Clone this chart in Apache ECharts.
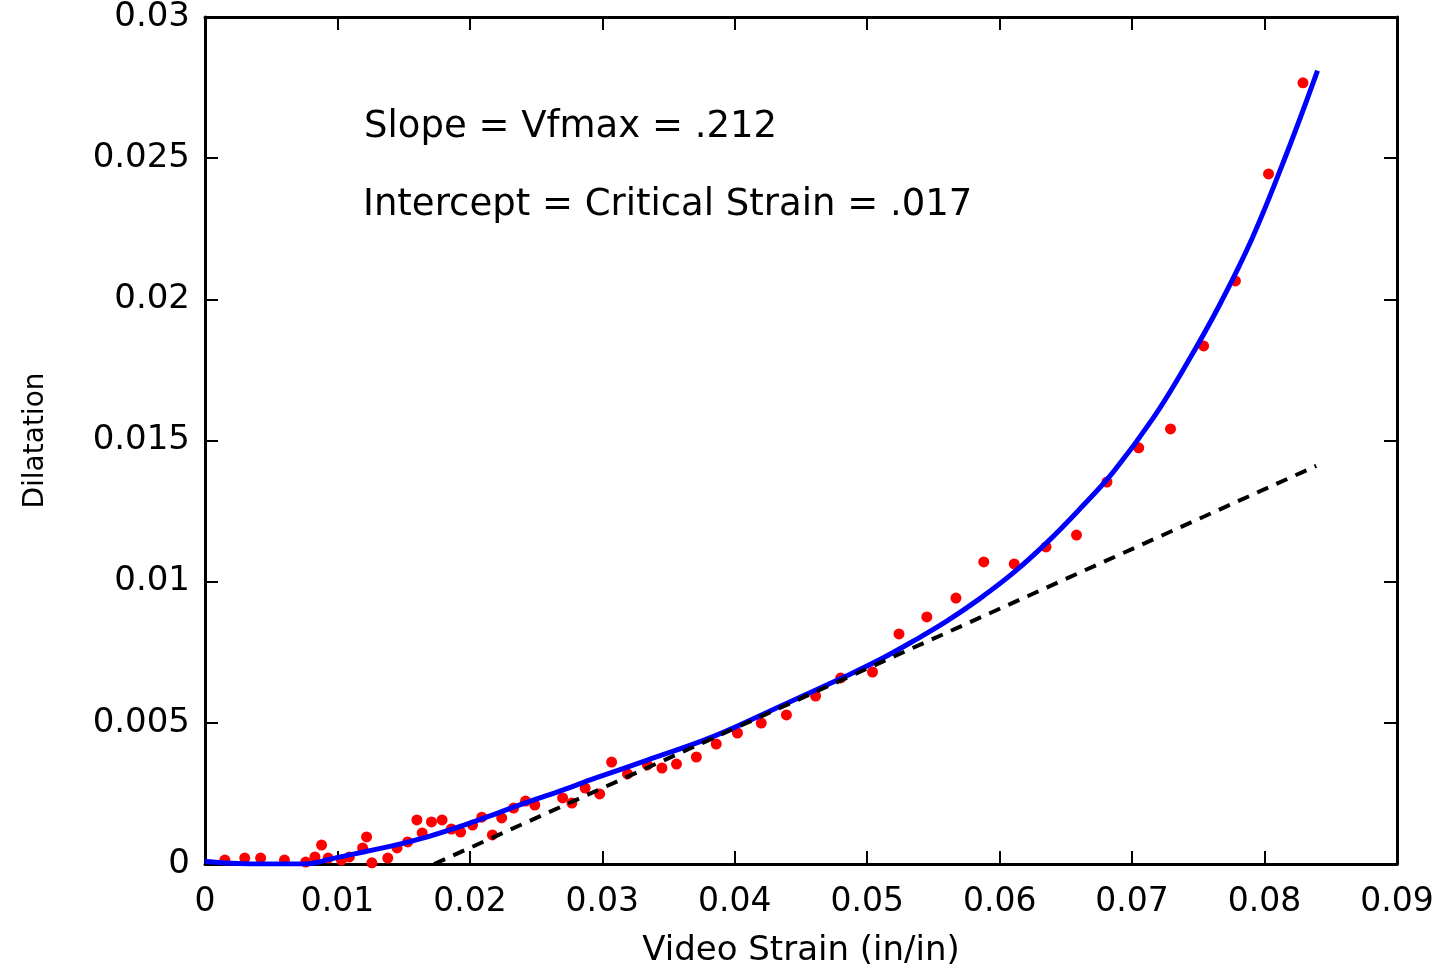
<!DOCTYPE html>
<html>
<head>
<meta charset="utf-8">
<script src="https://cdn.jsdelivr.net/npm/echarts@6/dist/echarts.min.js"></script>
<style>
  html, body { margin: 0; padding: 0; background: #fff; }
  #chart { width: 1451px; height: 969px; }
</style>
</head>
<body>
<div id="chart"></div>
<script>
// measured points: [video strain, dilatation]
const measured = [
  [0.0015, 0.00014], [0.0030, 0.00021], [0.0042, 0.00021], [0.0060, 0.00014],
  [0.0076, 0.00007], [0.0083, 0.00025], [0.0088, 0.00067], [0.0093, 0.00021],
  [0.0103, 0.00014], [0.0109, 0.00025], [0.0119, 0.00057], [0.0122, 0.00096],
  [0.0126, 0.00004], [0.0138, 0.00021], [0.0145, 0.00057], [0.0153, 0.00078],
  [0.0160, 0.00156], [0.0164, 0.00110], [0.0171, 0.00149], [0.0179, 0.00156],
  [0.0186, 0.00124], [0.0193, 0.00113], [0.0202, 0.00138], [0.0209, 0.00166],
  [0.0217, 0.00103], [0.0224, 0.00163], [0.0233, 0.00198], [0.0242, 0.00223],
  [0.0249, 0.00209], [0.0270, 0.00234], [0.0277, 0.00216], [0.0287, 0.00269],
  [0.0298, 0.00248], [0.0307, 0.00361], [0.0319, 0.00319], [0.0334, 0.00351],
  [0.0345, 0.00340], [0.0356, 0.00354], [0.0371, 0.00379], [0.0386, 0.00425],
  [0.0402, 0.00464], [0.0420, 0.00499], [0.0439, 0.00528], [0.0461, 0.00595],
  [0.0480, 0.00659], [0.0504, 0.00680], [0.0524, 0.00815], [0.0545, 0.00875],
  [0.0567, 0.00942], [0.0588, 0.01070], [0.0611, 0.01063], [0.0635, 0.01123],
  [0.0658, 0.01165], [0.0681, 0.01353], [0.0705, 0.01474], [0.0729, 0.01541],
  [0.0754, 0.01835], [0.0778, 0.02065], [0.0803, 0.02444], [0.0829, 0.02767]
];

// fitted curve
const fitCurve = [
  [0.0000, 0.00010], [0.0020, 0.00003], [0.0050, 0.00000], [0.0075, 0.00000],
  [0.0097, 0.00020], [0.0122, 0.00045], [0.0143, 0.00066], [0.0168, 0.00096],
  [0.0194, 0.00135], [0.0219, 0.00177], [0.0244, 0.00220], [0.0270, 0.00262],
  [0.0294, 0.00303], [0.0334, 0.00368], [0.0384, 0.00452], [0.0434, 0.00558],
  [0.0485, 0.00668], [0.0510, 0.00725], [0.0535, 0.00790], [0.0560, 0.00860],
  [0.0585, 0.00940], [0.0610, 0.01030], [0.0636, 0.01140], [0.0661, 0.01260],
  [0.0686, 0.01390], [0.0716, 0.01580], [0.0741, 0.01770], [0.0766, 0.01980],
  [0.0791, 0.02220], [0.0817, 0.02520], [0.0840, 0.02810]
];

// linear fit: slope .212, intercept .017
const linearFit = [[0.0173, 0.0], [0.0839, 0.0141]];

const annotations = ['Slope = Vfmax = .212', 'Intercept = Critical Strain = .017'];

const chart = echarts.init(document.getElementById('chart'));

const fmt = v => String(parseFloat(v.toFixed(3)));
const axisLine = { show: true, onZero: false, lineStyle: { color: '#000', width: 3 } };
const tickIn = { show: true, inside: true, length: 13, lineStyle: { color: '#000', width: 2 } };

const option = {
  animation: false,
  backgroundColor: '#fff',
  grid: { left: 205, right: 54, top: 17, bottom: 105, outerBoundsMode: 'none', containLabel: false },
  xAxis: [
    {
      type: 'value', min: 0, max: 0.09, interval: 0.01,
      position: 'bottom',
      name: 'Video Strain (in/in)',
      nameLocation: 'middle', nameGap: 70,
      nameTextStyle: { fontFamily: 'DejaVu Sans', fontSize: 34, color: '#000' },
      axisLine, axisTick: tickIn, splitLine: { show: false },
      axisLabel: { formatter: fmt, fontFamily: 'DejaVu Sans', fontSize: 33, color: '#000', margin: 22 }
    },
    {
      type: 'value', min: 0, max: 0.09, interval: 0.01,
      position: 'top',
      axisLine, axisTick: tickIn, splitLine: { show: false },
      axisLabel: { show: false }
    }
  ],
  yAxis: [
    {
      type: 'value', min: 0, max: 0.03, interval: 0.005,
      position: 'left',
      name: 'Dilatation',
      nameLocation: 'middle', nameGap: 155,
      nameTextStyle: { fontFamily: 'DejaVu Sans', fontSize: 28, color: '#000' },
      axisLine, axisTick: tickIn, splitLine: { show: false },
      axisLabel: { formatter: fmt, fontFamily: 'DejaVu Sans', fontSize: 34, color: '#000', margin: 15 }
    },
    {
      type: 'value', min: 0, max: 0.03, interval: 0.005,
      position: 'right',
      axisLine, axisTick: tickIn, splitLine: { show: false },
      axisLabel: { show: false }
    }
  ],
  graphic: [
    {
      type: 'text', left: 364, top: 109,
      style: { text: annotations[0], fontFamily: 'DejaVu Sans', fontSize: 37, fill: '#000' }
    },
    {
      type: 'text', left: 363, top: 187,
      style: { text: annotations[1], fontFamily: 'DejaVu Sans', fontSize: 37, fill: '#000' }
    }
  ],
  series: [
    {
      type: 'scatter', data: measured,
      symbol: 'circle', symbolSize: 11,
      itemStyle: { color: '#ff0000', opacity: 1 },
      z: 2
    },
    {
      type: 'line', data: fitCurve,
      smooth: 0.4, showSymbol: false,
      lineStyle: { color: '#0000ff', width: 5 },
      z: 3
    },
    {
      type: 'line', data: linearFit,
      showSymbol: false,
      lineStyle: { color: '#000', width: 4, type: [12, 9] },
      z: 4
    }
  ]
};

chart.setOption(option);
</script>
</body>
</html>
